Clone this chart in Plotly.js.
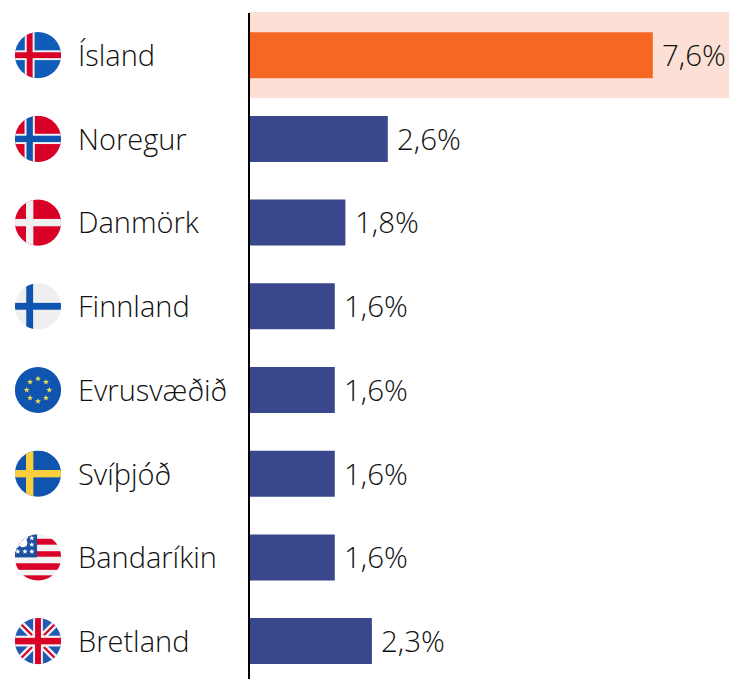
<!DOCTYPE html>
<html>
<head>
<meta charset="utf-8">
<script src="https://cdn.plot.ly/plotly-3.0.1.min.js"></script>
<style>html,body{margin:0;padding:0;background:#fff;overflow:hidden}#chart{width:729px;height:679px}</style>
</head>
<body>
<div id="chart"></div>
<script>
const categories = ["Ísland","Noregur","Danmörk","Finnland","Evrusvæðið","Svíþjóð","Bandaríkin","Bretland"];
const values = [7.6,2.6,1.8,1.6,1.6,1.6,1.6,2.3];
const valueLabels = ["7,6%","2,6%","1,8%","1,6%","1,6%","1,6%","1,6%","2,3%"];
const barColors = ["#F66724","#39488C","#39488C","#39488C","#39488C","#39488C","#39488C","#39488C"];
const flagKeys = ["is","no","dk","fi","eu","se","us","gb"];

const W = 729, H = 679, L = 250, T = 13;
const plotW = W - L, plotH = H - T;
const step = 83.7;
const rowCenter0 = 55.2;
const rowStart = (rowCenter0 - T) / step;
const FONT = '"Open Sans", "Noto Sans", sans-serif';

function nordic(bg, outer, inner, ow, iw) {
  const cx = 15.5, cy = 24;
  let s = `<rect width="48" height="48" fill="${bg}"/>`;
  s += `<rect x="${cx-ow/2}" width="${ow}" height="48" fill="${outer}"/><rect y="${cy-ow/2}" width="48" height="${ow}" fill="${outer}"/>`;
  if (inner) s += `<rect x="${cx-iw/2}" width="${iw}" height="48" fill="${inner}"/><rect y="${cy-iw/2}" width="48" height="${iw}" fill="${inner}"/>`;
  return s;
}
function star(x, y, r, fill) {
  let p = [];
  for (let i = 0; i < 10; i++) {
    const a = -Math.PI/2 + i*Math.PI/5, rr = i%2 ? r*0.42 : r;
    p.push((x+rr*Math.cos(a)).toFixed(2)+','+(y+rr*Math.sin(a)).toFixed(2));
  }
  return `<polygon points="${p.join(' ')}" fill="${fill}"/>`;
}
function euFlag() {
  let s = '<rect width="48" height="48" fill="#0F55B0"/>';
  for (let i = 0; i < 8; i++) {
    const a = i*Math.PI/4;
    s += star(24+11.5*Math.sin(a), 24-11.5*Math.cos(a), 3.2, '#F0DC50');
  }
  return s;
}
function usFlag() {
  let s = '<rect width="48" height="48" fill="#F2F2F2"/>';
  [[5,6],[17.7,5.6],[30,6.7],[42.3,5.7]].forEach(r => { s += `<rect y="${r[0]}" width="48" height="${r[1]}" fill="#D80027"/>`; });
  s += '<rect x="0" y="0" width="23" height="24" fill="#1B4FA0"/>';
  s += '<path d="M0 0H13A4 4 0 0 1 12 6A4 4 0 0 1 5 12A4 4 0 0 1 0 14Z" fill="#FFFFFF"/>';
  [[17.7,4.3],[10.7,11],[17.7,11],[3.3,18],[10.7,18],[17.7,18]].forEach(c => { s += star(c[0], c[1], 2.9, '#FFFFFF'); });
  return s;
}
function gbFlag() {
  return '<rect width="48" height="48" fill="#1F5AB0"/>' +
    '<path d="M0 0L48 48M48 0L0 48" stroke="#F2F2F2" stroke-width="7"/>' +
    '<path d="M4 4L18 18M44 4L30 18M4 44L18 30M44 44L30 30" stroke="#D80027" stroke-width="2.2"/>' +
    '<rect x="19" width="10" height="48" fill="#F2F2F2"/><rect y="18.5" width="48" height="11" fill="#F2F2F2"/>' +
    '<rect x="21" width="6" height="48" fill="#D80027"/><rect y="20.7" width="48" height="6.6" fill="#D80027"/>';
}
const flagBodies = {
  is: nordic('#0F5DB8', '#F2F2F2', '#D80027', 10, 6),
  no: nordic('#D80027', '#F2F2F2', '#0F55B0', 10.5, 6.5),
  dk: nordic('#D80027', '#F0F0F0', null, 7.5, 0),
  fi: nordic('#EFEFEF', '#0F55B0', null, 7, 0),
  eu: euFlag(),
  se: nordic('#0F55B0', '#F9CF3E', null, 7.5, 0),
  us: usFlag(),
  gb: gbFlag()
};
function flagUri(k) {
  const svg = `<svg xmlns="http://www.w3.org/2000/svg" width="96" height="96" viewBox="0 0 48 48"><defs><clipPath id="c"><circle cx="24" cy="24" r="23.6"/></clipPath></defs><g clip-path="url(#c)">${flagBodies[k]}</g></svg>`;
  return 'data:image/svg+xml;charset=utf-8,' + encodeURIComponent(svg);
}
const rowPx = i => rowCenter0 + i*step;

const trace = {
  type: 'bar', orientation: 'h',
  x: values, y: categories,
  width: 0.55,
  marker: {color: barColors, line: {width: 0}},
  hoverinfo: 'skip'
};

const catLabels = categories.map((c,i) => ({
  text: c, xref: 'paper', yref: 'paper',
  x: (76-L)/plotW, y: 1-(rowPx(i)-0.7-T)/plotH,
  xanchor: 'left', yanchor: 'middle', showarrow: false,
  font: {family: FONT, size: 29, color: '#111111', weight: 300}
}));
const valLabels = valueLabels.map((t,i) => ({
  text: t, xref: 'x', yref: 'paper',
  x: values[i], xshift: 7.5, y: 1-(rowPx(i)-0.7-T)/plotH,
  xanchor: 'left', yanchor: 'middle', showarrow: false,
  font: {family: FONT, size: 29.5, color: '#111111', weight: 300}
}));

const layout = {
  width: W, height: H,
  margin: {l: L, r: 0, t: T, b: 0, pad: 0},
  paper_bgcolor: '#fff', plot_bgcolor: 'rgba(0,0,0,0)',
  showlegend: false, bargap: 0.45,
  xaxis: {range: [0, plotW/53.0], visible: false, fixedrange: true},
  yaxis: {
    type: 'category', categoryorder: 'array', categoryarray: categories,
    range: [-rowStart + plotH/step, -rowStart],
    showticklabels: false, ticks: '', showgrid: false, zeroline: false,
    showline: true, linecolor: '#000', linewidth: 2, fixedrange: true
  },
  shapes: [{
    type: 'rect', layer: 'below', xref: 'paper', yref: 'paper',
    x0: (249-L)/plotW, x1: 1, y0: 1-(98-T)/plotH, y1: 1-(12-T)/plotH,
    fillcolor: '#FCE0D5', line: {width: 0}
  }],
  images: flagKeys.map((k,i) => ({
    source: flagUri(k), xref: 'paper', yref: 'paper', layer: 'above',
    x: (38-L)/plotW, y: 1-(rowPx(i)-T)/plotH,
    sizex: 47/plotW, sizey: 47/plotH,
    xanchor: 'center', yanchor: 'middle', sizing: 'stretch'
  })),
  annotations: catLabels.concat(valLabels)
};
Plotly.newPlot('chart', [trace], layout, {displayModeBar: false, staticPlot: true});
</script>
</body>
</html>
